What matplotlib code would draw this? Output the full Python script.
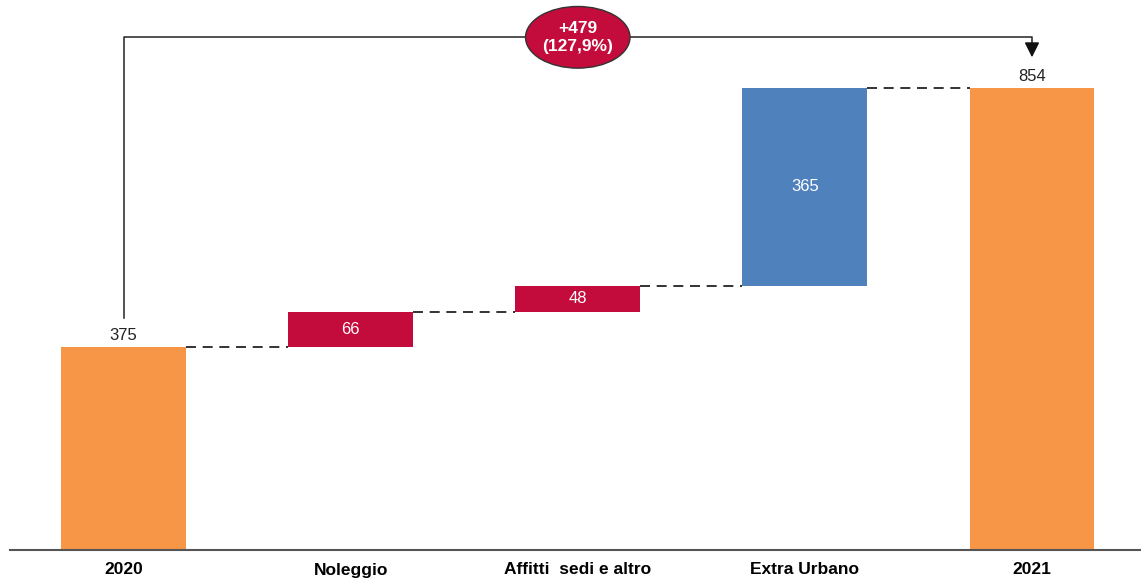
import matplotlib
matplotlib.use("Agg")
import matplotlib.pyplot as plt
from matplotlib.patches import Ellipse
from matplotlib import font_manager

categories = ["2020", "Noleggio", "Affitti  sedi e altro", "Extra Urbano", "2021"]
values = [375, 66, 48, 365, 854]
kinds = ["total", "step", "step", "step", "total"]
delta_label = "+479\n(127,9%)"

ORANGE = "#F79646"
RED = "#C30B3C"
BLUE = "#4F81BD"

names = {f.name for f in font_manager.fontManager.ttflist}
narrow = "Liberation Sans Narrow" if "Liberation Sans Narrow" in names else "Liberation Sans"
plt.rcParams["font.family"] = [narrow, "DejaVu Sans"]

fig = plt.figure(figsize=(11.41, 5.82), dpi=100)
ax = fig.add_axes([10 / 1141, 32 / 582, 1 - 10 / 1141, 550 / 582])

width = 0.55
bottoms, tops = [], []
running = 0
for v, k in zip(values, kinds):
    if k == "total":
        bottoms.append(0)
        tops.append(v)
        running = v
    else:
        bottoms.append(running)
        running += v
        tops.append(running)

colors = [ORANGE, RED, RED, BLUE, ORANGE]
for i, (b, t, c) in enumerate(zip(bottoms, tops, colors)):
    ax.bar(i, t - b, bottom=b, width=width, color=c, zorder=2)
    if kinds[i] == "total":
        ax.text(i, t + 8, str(values[i]), ha="center", va="bottom",
                fontsize=12, color="#222222", family=["Liberation Sans", "DejaVu Sans"])
    else:
        ax.text(i, (b + t) / 2, str(values[i]), ha="center", va="center",
                fontsize=12, color="white", family=["Liberation Sans", "DejaVu Sans"])

# dashed connectors between consecutive bars
for i in range(len(values) - 1):
    ax.plot([i + width / 2, i + 1 - width / 2], [tops[i], tops[i]],
            ls=(0, (6, 4)), color="#111111", lw=1.2, zorder=1)

# bracket from first to last total
y_br = 948
ax.plot([0, 0, 4, 4], [429, y_br, y_br, 925], color="#222222", lw=1.1, zorder=3)
ax.annotate("", xy=(4, 906), xytext=(4, 935),
            arrowprops=dict(arrowstyle="-|>,head_width=0.45,head_length=0.9",
                            color="#111111", lw=1.1), zorder=3)
ell = Ellipse((2, y_br), width=0.46, height=114, facecolor=RED,
              edgecolor="#333333", lw=1.0, zorder=4)
ax.add_patch(ell)
ax.text(2, y_br, delta_label, ha="center", va="center", color="white",
        fontsize=12.5, fontweight="bold", zorder=5, linespacing=1.2,
        family=["Liberation Sans", "DejaVu Sans"])

ax.set_xlim(-0.5, 4.48)
ax.set_ylim(0, 1017)
ax.set_xticks(range(len(categories)))
ax.set_xticklabels(categories, fontsize=12.5, fontweight="bold")
ax.tick_params(axis="x", length=0, pad=9)
ax.set_yticks([])
for s in ["top", "right", "left"]:
    ax.spines[s].set_visible(False)
ax.spines["bottom"].set_color("#555555")
ax.spines["bottom"].set_linewidth(1.5)

fig.savefig("out.png", dpi=100)
